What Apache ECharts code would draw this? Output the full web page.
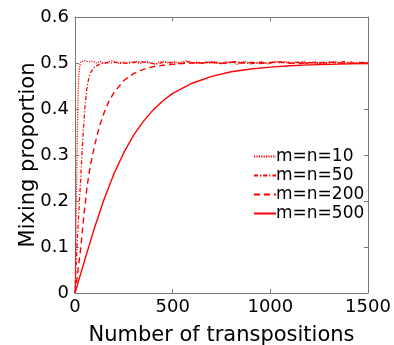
<!DOCTYPE html>
<html>
<head>
<meta charset="utf-8">
<script src="https://cdn.jsdelivr.net/npm/echarts@6/dist/echarts.min.js"></script>
<style>
html,body{margin:0;padding:0;background:#fff;}
#chart{width:394px;height:345px;}
</style>
</head>
<body>
<div id="chart"></div>
<script>
// ---- data ----
var seriesNames = ['m=n=10', 'm=n=50', 'm=n=200', 'm=n=500'];
var xTicks = [0, 500, 1000, 1500];
var yTicks = [0, 0.1, 0.2, 0.3, 0.4, 0.5, 0.6];

// m=n=10: rise
var rise10X = [0, 3, 6, 9, 12, 15, 18, 22, 26, 30, 40, 50, 60];
var rise10Y = [0, 0.08, 0.17, 0.26, 0.35, 0.42, 0.46, 0.485, 0.497, 0.503, 0.506, 0.505, 0.503];
// m=n=10: plateau (sampled from x=70 every 20)
var plat10Start = 70, plat10Step = 20;
var plat10Y = [0.502,0.504,0.500,0.503,0.499,0.502,0.505,0.501,0.498,0.503,
0.500,0.502,0.504,0.499,0.501,0.503,0.500,0.497,0.502,0.504,
0.501,0.499,0.503,0.500,0.502,0.505,0.499,0.501,0.503,0.498,
0.502,0.500,0.504,0.501,0.499,0.503,0.500,0.502,0.497,0.501,
0.504,0.500,0.502,0.499,0.503,0.501,0.498,0.502,0.504,0.500,
0.501,0.503,0.499,0.502,0.500,0.504,0.498,0.501,0.503,0.500,
0.502,0.499,0.501,0.504,0.500,0.502,0.498,0.503,0.501,0.499,
0.502,0.500,0.501];

// m=n=50
var rise50X = [0, 5, 10, 20, 30, 40, 50, 60, 70, 80, 90, 100, 120, 140, 160];
var rise50Y = [0, 0.05, 0.1, 0.18, 0.255, 0.335, 0.4, 0.443, 0.466, 0.479, 0.486, 0.491, 0.496, 0.499, 0.501];
var plat50Start = 180, plat50Step = 40;
var plat50Y = [0.500,0.502,0.499,0.501,0.503,0.500,0.498,0.502,0.501,0.499,
0.503,0.500,0.501,0.502,0.499,0.500,0.503,0.501,0.498,0.502,
0.500,0.501,0.503,0.499,0.502,0.500,0.501,0.498,0.502,0.500,
0.503,0.499,0.501,0.500];

// m=n=200
var rise200X = [0, 10, 20, 30, 40, 50, 60, 70, 80, 100, 125, 150, 175, 200, 250, 300, 350, 400, 450, 500, 550, 600];
var rise200Y = [0, 0.03, 0.065, 0.1, 0.145, 0.185, 0.225, 0.255, 0.28, 0.32, 0.362, 0.393, 0.418, 0.436, 0.462, 0.477, 0.486, 0.492, 0.495, 0.497, 0.499, 0.5];
var plat200Start = 650, plat200Step = 50;
var plat200Y = [0.500,0.501,0.499,0.502,0.500,0.501,0.499,0.501,0.502,0.500,0.499,0.501,0.500,0.502,0.500,0.499,0.501,0.500];

// m=n=500
var curve500X = [0, 50, 100, 150, 200, 250, 300, 350, 400, 450, 500, 600, 700, 800, 900, 1000, 1100, 1200, 1300, 1400, 1500];
var curve500Y = [0, 0.072, 0.142, 0.205, 0.26, 0.305, 0.343, 0.373, 0.398, 0.418, 0.434, 0.456, 0.471, 0.481, 0.487, 0.491, 0.494, 0.496, 0.497, 0.498, 0.499];

// ---- build ----
function pairs(xs, ys) { return xs.map(function (x, i) { return [x, ys[i]]; }); }
function plateau(start, step, ys) { return ys.map(function (y, i) { return [Math.min(start + i * step, 1500), y]; }); }

var d10 = pairs(rise10X, rise10Y).concat(plateau(plat10Start, plat10Step, plat10Y));
var d50 = pairs(rise50X, rise50Y).concat(plateau(plat50Start, plat50Step, plat50Y));
var d200 = pairs(rise200X, rise200Y).concat(plateau(plat200Start, plat200Step, plat200Y));
var d500 = pairs(curve500X, curve500Y);

var FONT = 'DejaVu Sans';
var RED = '#ff0000';
var FRAME = '#777';

var chart = echarts.init(document.getElementById('chart'), null, {renderer: 'canvas'});

function lineSeries(name, data, type, width) {
  return {
    name: name, type: 'line', data: data, symbol: 'none', smooth: false,
    xAxisIndex: 0, yAxisIndex: 0,
    lineStyle: {color: RED, width: width, type: type},
    itemStyle: {color: RED},
    animation: false, z: 3
  };
}

chart.setOption({
  animation: false,
  backgroundColor: '#fff',
  grid: {left: 75, right: 26, top: 17, bottom: 52, containLabel: false, outerBoundsMode: 'none'},
  legend: {
    orient: 'vertical',
    left: 248, top: 143,
    itemWidth: 22, itemHeight: 12, itemGap: 2,
    itemStyle: {opacity: 0},
    textStyle: {fontFamily: FONT, fontSize: 17, color: '#000', padding: [0, 0, 0, -5]},
    data: seriesNames
  },
  xAxis: [{
    type: 'value', min: 0, max: 1500, interval: 500,
    name: 'Number of transpositions', nameLocation: 'middle', nameGap: 32,
    nameMoveOverlap: false,
    nameTextStyle: {fontFamily: FONT, fontSize: 21, color: '#000'},
    axisLine: {show: true, lineStyle: {color: FRAME, width: 1}},
    axisTick: {show: true, inside: true, length: 4, lineStyle: {color: FRAME}},
    axisLabel: {fontFamily: FONT, fontSize: 18, color: '#000', margin: 5,
      formatter: function (v) { return xTicks.indexOf(v) >= 0 ? String(v) : ''; }},
    splitLine: {show: false}
  }, {
    type: 'value', min: 0, max: 1500, interval: 500, position: 'top',
    axisLine: {show: true, onZero: false, lineStyle: {color: FRAME, width: 1}},
    axisTick: {show: true, inside: true, length: 4, lineStyle: {color: FRAME}},
    axisLabel: {show: false}, splitLine: {show: false}
  }],
  yAxis: [{
    type: 'value', min: 0, max: 0.6, interval: 0.1,
    name: 'Mixing proportion', nameLocation: 'middle', nameGap: 36,
    nameMoveOverlap: false,
    nameTextStyle: {fontFamily: FONT, fontSize: 21, color: '#000'},
    axisLine: {show: true, lineStyle: {color: FRAME, width: 1}},
    axisTick: {show: true, inside: true, length: 4, lineStyle: {color: FRAME}},
    axisLabel: {fontFamily: FONT, fontSize: 18, color: '#000', margin: 6,
      formatter: function (v) {
        var r = Math.round(v * 10) / 10;
        return r === 0 ? '0' : r.toFixed(1);
      }},
    splitLine: {show: false}
  }, {
    type: 'value', min: 0, max: 0.6, interval: 0.1, position: 'right',
    axisLine: {show: true, onZero: false, lineStyle: {color: FRAME, width: 1}},
    axisTick: {show: true, inside: true, length: 4, lineStyle: {color: FRAME}},
    axisLabel: {show: false}, splitLine: {show: false}
  }],
  series: [
    lineSeries(seriesNames[0], d10, [1.2, 1.2], 1.2),
    lineSeries(seriesNames[1], d50, [4, 2, 1.2, 2], 1.3),
    lineSeries(seriesNames[2], d200, [6, 4], 1.4),
    lineSeries(seriesNames[3], d500, 'solid', 1.4)
  ]
});
</script>
</body>
</html>
